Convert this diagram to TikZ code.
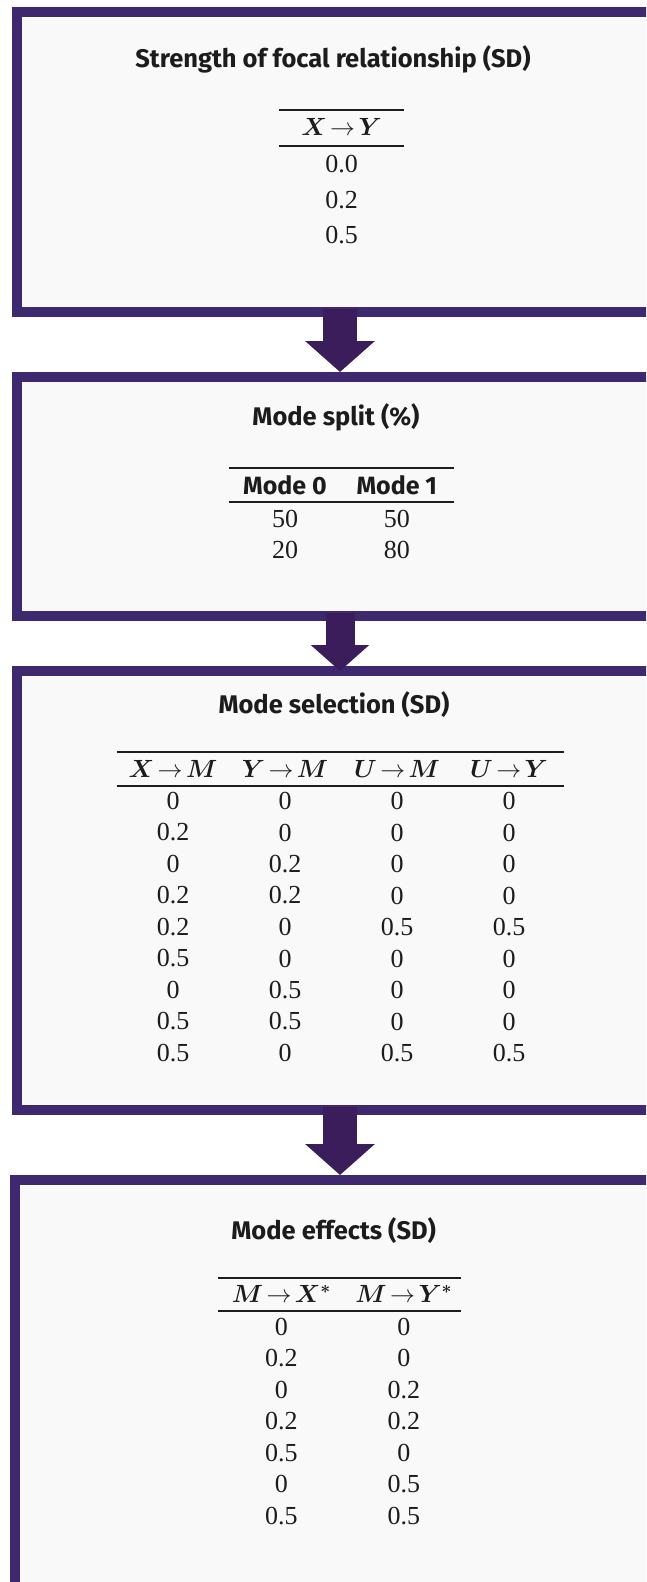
\documentclass[tikz,border=0pt]{standalone}
\usepackage{fontspec}
\usepackage{bm}
\usetikzlibrary{arrows.meta,calc}
\newfontfamily\headfont{Fira Sans}
\newfontfamily\numfont{Liberation Serif}
\definecolor{panelline}{RGB}{62,40,112}
\definecolor{flowarrow}{RGB}{58,29,90}
\definecolor{panelfill}{RGB}{249,249,249}
\definecolor{ink}{RGB}{28,28,28}
\newcommand{\arr}[2]{$\bm{#1}\mskip2.5mu{\to}\mskip2.5mu\bm{#2}$}
\begin{document}
\begin{tikzpicture}[x=1pt,y=-1pt,
  panel/.style={draw=panelline, fill=panelfill, line width=10pt, rectangle,
    outer sep=5pt, inner sep=0pt, anchor=north west},
  flow/.style={draw=flowarrow, line width=34.5pt, line cap=butt,
    -{Triangle[length=31pt,width=68pt]}},
  flowsmall/.style={draw=flowarrow, line width=29pt, line cap=butt,
    -{Triangle[length=26pt,width=57pt]}},
  title/.style={font=\headfont\bfseries\fontsize{25.5}{30}\selectfont, text=ink, inner sep=0pt},
  colhead/.style={font=\fontsize{24}{29}\selectfont, text=ink, inner sep=0pt},
  colheadsf/.style={font=\headfont\bfseries\fontsize{25}{30}\selectfont, text=ink, inner sep=0pt},
  cell/.style={font=\numfont\fontsize{26}{31}\selectfont, text=ink, inner sep=0pt},
  rule/.style={draw=ink, line width=2pt}]

\useasboundingbox (0,0) rectangle (646,1582);
\clip (0,0) rectangle (646,1582);
\fill[white] (0,0) rectangle (646,1582);

% panels
\node[panel, minimum width=646pt, minimum height=299.4pt] (b1) at (12,7.3) {};
\node[panel, minimum width=646pt, minimum height=238.7pt] (b2) at (12,372) {};
\node[panel, minimum width=646pt, minimum height=439pt] (b3) at (12,666) {};
\node[panel, minimum width=650pt, minimum height=500pt] (b4) at (10,1175) {};

% flow arrows between panels
\draw[flow] ([yshift=8pt]b1.south) -- (b2.north);
\draw[flowsmall] ([yshift=8pt]b2.south) -- ([yshift=-5pt]b3.north);
\draw[flow] ([yshift=8pt]b3.south) -- (b4.north);

% panel 1: focal relationship
\node[title] (t1) at (333,59) {Strength of focal relationship (SD)};
\draw[rule] (279,110) -- (404,110);
\node[colhead] (h1) at (341.5,126.7) {\arr{X}{Y}};
\draw[rule] (279,146) -- (404,146);
\foreach \v [count=\i] in {0.0,0.2,0.5}
  \node[cell] (f-\i) at (341.5,{164+35.7*(\i-1)}) {\v};

% panel 2: mode split
\node[title] (t2) at (336,417.3) {Mode split (\%)};
\draw[rule] (228.7,468.3) -- (454,468.3);
\node[colheadsf] (h2a) at (285,485.7) {Mode 0};
\node[colheadsf] (h2b) at (396.8,485.7) {Mode 1};
\draw[rule] (228.7,501.7) -- (454,501.7);
\foreach \a/\b [count=\i] in {50/50,20/80}{
  \node[cell] (sp-\i-1) at (285,{519+31*(\i-1)}) {\a};
  \node[cell] (sp-\i-2) at (396.8,{519+31*(\i-1)}) {\b};
}

% panel 3: mode selection
\node[title] (t3) at (334,705) {Mode selection (SD)};
\draw[rule] (116.6,752.3) -- (563.6,752.3);
\node[colhead] (h3a) at (173,769.3) {\arr{X}{M}};
\node[colhead] (h3b) at (285,769.3) {\arr{Y}{M}};
\node[colhead] (h3c) at (397,769.3) {\arr{U}{M}};
\node[colhead] (h3d) at (509,769.3) {\arr{U}{Y}};
\draw[rule] (116.6,785.7) -- (563.6,785.7);
\foreach \a/\b/\c/\d [count=\i] in {0/0/0/0, 0.2/0/0/0, 0/0.2/0/0, 0.2/0.2/0/0,
    0.2/0/0.5/0.5, 0.5/0/0/0, 0/0.5/0/0, 0.5/0.5/0/0, 0.5/0/0.5/0.5}{
  \node[cell] (se-\i-1) at (173,{801+31.5*(\i-1)}) {\a};
  \node[cell] (se-\i-2) at (285,{801+31.5*(\i-1)}) {\b};
  \node[cell] (se-\i-3) at (397,{801+31.5*(\i-1)}) {\c};
  \node[cell] (se-\i-4) at (509,{801+31.5*(\i-1)}) {\d};
}

% panel 4: mode effects
\node[title] (t4) at (333.7,1230.7) {Mode effects (SD)};
\draw[rule] (217.6,1277.7) -- (460.7,1277.7);
\node[colhead] (h4a) at (281.4,1294) {\arr{M}{X^{*}}};
\node[colhead] (h4b) at (403.8,1294) {\arr{M}{Y^{*}}};
\draw[rule] (217.6,1310.7) -- (460.7,1310.7);
\foreach \a/\b [count=\i] in {0/0, 0.2/0, 0/0.2, 0.2/0.2, 0.5/0, 0/0.5, 0.5/0.5}{
  \node[cell] (ef-\i-1) at (281.4,{1326.7+31.5*(\i-1)}) {\a};
  \node[cell] (ef-\i-2) at (403.8,{1326.7+31.5*(\i-1)}) {\b};
}
\end{tikzpicture}
\end{document}
